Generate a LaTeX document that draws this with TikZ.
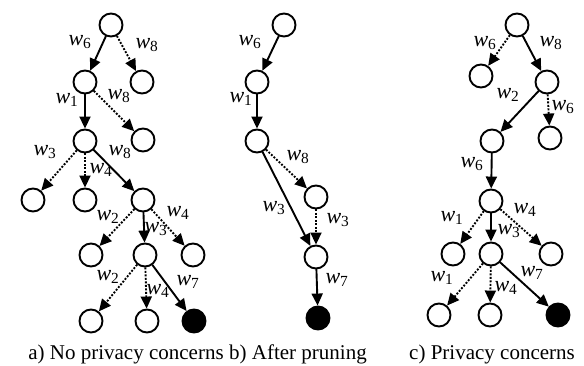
\documentclass[tikz,border=0pt]{standalone}
\usepackage{fontspec}
\setmainfont{Liberation Serif}
\usetikzlibrary {arrows.meta}

\newcommand{\wt}[1]{\textit{w}\textsubscript{#1}}

\begin{document}
\begin{tikzpicture}[x=1pt, y=-1pt, line cap=round,
    st/.style={circle, draw, line width=1.9pt, minimum size=23pt, inner sep=0pt},
    leaf/.style={st, fill=black},
    go/.style={line width=1.9pt, -{Triangle[length=12pt, width=11pt]}},
    maybe/.style={go, line cap=butt, dash pattern=on 1.9pt off 1.6pt},
    lbl/.style={inner sep=0pt, font=\fontsize{22}{24}\selectfont},
    capt/.style={anchor=base, inner sep=0pt, font=\fontsize{21}{24}\selectfont}]

    \useasboundingbox (0,0) rectangle (584,365);

    % a) no privacy concerns
    \begin{scope}
        \node[st] (a0) at (111, 25) {};
        \node[st] (a1) at (85, 82) {};
        \node[st] (a2) at (142, 82) {};
        \node[st] (a3) at (85, 141) {};
        \node[st] (a4) at (143, 140) {};
        \node[st] (a5) at (33, 200) {};
        \node[st] (a6) at (85, 200) {};
        \node[st] (a7) at (143, 200) {};
        \node[st] (a8) at (91, 255) {};
        \node[st] (a9) at (145, 255) {};
        \node[st] (a10) at (193, 255) {};
        \node[st] (a11) at (91, 321) {};
        \node[st] (a12) at (147, 321) {};
        \node[leaf] (a13) at (194, 321) {};

        \draw[go] (a0) -- (a1);
        \draw[maybe] (a0) -- (a2);
        \draw[go] (a1) -- (a3);
        \draw[maybe] (a1) -- (a4);
        \draw[maybe] (a3) -- (a5);
        \draw[maybe] (a3) -- (a6);
        \draw[go] (a3) -- (a7);
        \draw[maybe] (a7) -- (a8);
        \draw[go] (a7) -- (a9);
        \draw[maybe] (a7) -- (a10);
        \draw[maybe] (a9) -- (a11);
        \draw[maybe] (a9) -- (a12);
        \draw[go] (a9) -- (a13);

        \node[lbl] (la1) at (80, 42) {\wt{6}};
        \node[lbl] (la2) at (147, 45) {\wt{8}};
        \node[lbl] (la3) at (67, 100) {\wt{1}};
        \node[lbl] (la4) at (119, 96) {\wt{8}};
        \node[lbl] (la5) at (45, 152) {\wt{3}};
        \node[lbl] (la6) at (101, 170) {\wt{4}};
        \node[lbl] (la7) at (120, 152) {\wt{8}};
        \node[lbl] (la8) at (108, 217) {\wt{2}};
        \node[lbl] (la9) at (156, 229) {\wt{3}};
        \node[lbl] (la10) at (178, 213) {\wt{4}};
        \node[lbl] (la11) at (108, 277) {\wt{2}};
        \node[lbl] (la12) at (158, 291) {\wt{4}};
        \node[lbl] (la13) at (188, 282) {\wt{7}};

        \node[capt] (capa) at (126, 359) {a) No privacy concerns};
    \end{scope}

    % b) after pruning
    \begin{scope}
        \node[st] (b0) at (284, 25) {};
        \node[st] (b1) at (257, 82) {};
        \node[st] (b2) at (257, 141) {};
        \node[st] (b3) at (316, 197) {};
        \node[st] (b4) at (316, 257) {};
        \node[leaf] (b5) at (318, 318) {};

        \draw[go] (b0) -- (b1);
        \draw[go] (b1) -- (b2);
        \draw[maybe] (b2) -- (b3);
        \draw[go] (b2) -- (b4);
        \draw[maybe] (b3) -- (b4);
        \draw[go] (b4) -- (b5);

        \node[lbl] (lb1) at (250, 42) {\wt{6}};
        \node[lbl] (lb2) at (241, 99) {\wt{1}};
        \node[lbl] (lb3) at (298, 157) {\wt{8}};
        \node[lbl] (lb4) at (274, 208) {\wt{3}};
        \node[lbl] (lb5) at (338, 220) {\wt{3}};
        \node[lbl] (lb6) at (337, 280) {\wt{7}};

        \node[capt] (capb) at (298, 359) {b) After pruning};
    \end{scope}

    % c) privacy concerns
    \begin{scope}
        \node[st] (c0) at (517, 25) {};
        \node[st] (c1) at (481, 76) {};
        \node[st] (c2) at (547, 82) {};
        \node[st] (c3) at (492, 141) {};
        \node[st] (c4) at (550, 138) {};
        \node[st] (c5) at (491, 201) {};
        \node[st] (c6) at (453, 254) {};
        \node[st] (c7) at (491, 254) {};
        \node[st] (c8) at (551, 254) {};
        \node[st] (c9) at (439, 315) {};
        \node[st] (c10) at (490, 315) {};
        \node[leaf] (c11) at (558, 315) {};

        \draw[maybe] (c0) -- (c1);
        \draw[go] (c0) -- (c2);
        \draw[go] (c2) -- (c3);
        \draw[maybe] (c2) -- (c4);
        \draw[go] (c3) -- (c5);
        \draw[maybe] (c5) -- (c6);
        \draw[go] (c5) -- (c7);
        \draw[maybe] (c5) -- (c8);
        \draw[maybe] (c7) -- (c9);
        \draw[maybe] (c7) -- (c10);
        \draw[go] (c7) -- (c11);

        \node[lbl] (lc1) at (485, 43) {\wt{6}};
        \node[lbl] (lc2) at (551, 43) {\wt{8}};
        \node[lbl] (lc3) at (508, 95) {\wt{2}};
        \node[lbl] (lc4) at (563, 107) {\wt{6}};
        \node[lbl] (lc5) at (472, 164) {\wt{6}};
        \node[lbl] (lc6) at (452, 218) {\wt{1}};
        \node[lbl] (lc7) at (509, 231) {\wt{3}};
        \node[lbl] (lc8) at (525, 210) {\wt{4}};
        \node[lbl] (lc9) at (442, 278) {\wt{1}};
        \node[lbl] (lc10) at (506, 288) {\wt{4}};
        \node[lbl] (lc11) at (532, 273) {\wt{7}};

        \node[capt] (capc) at (492, 359) {c) Privacy concerns};
    \end{scope}

\end{tikzpicture}
\end{document}
